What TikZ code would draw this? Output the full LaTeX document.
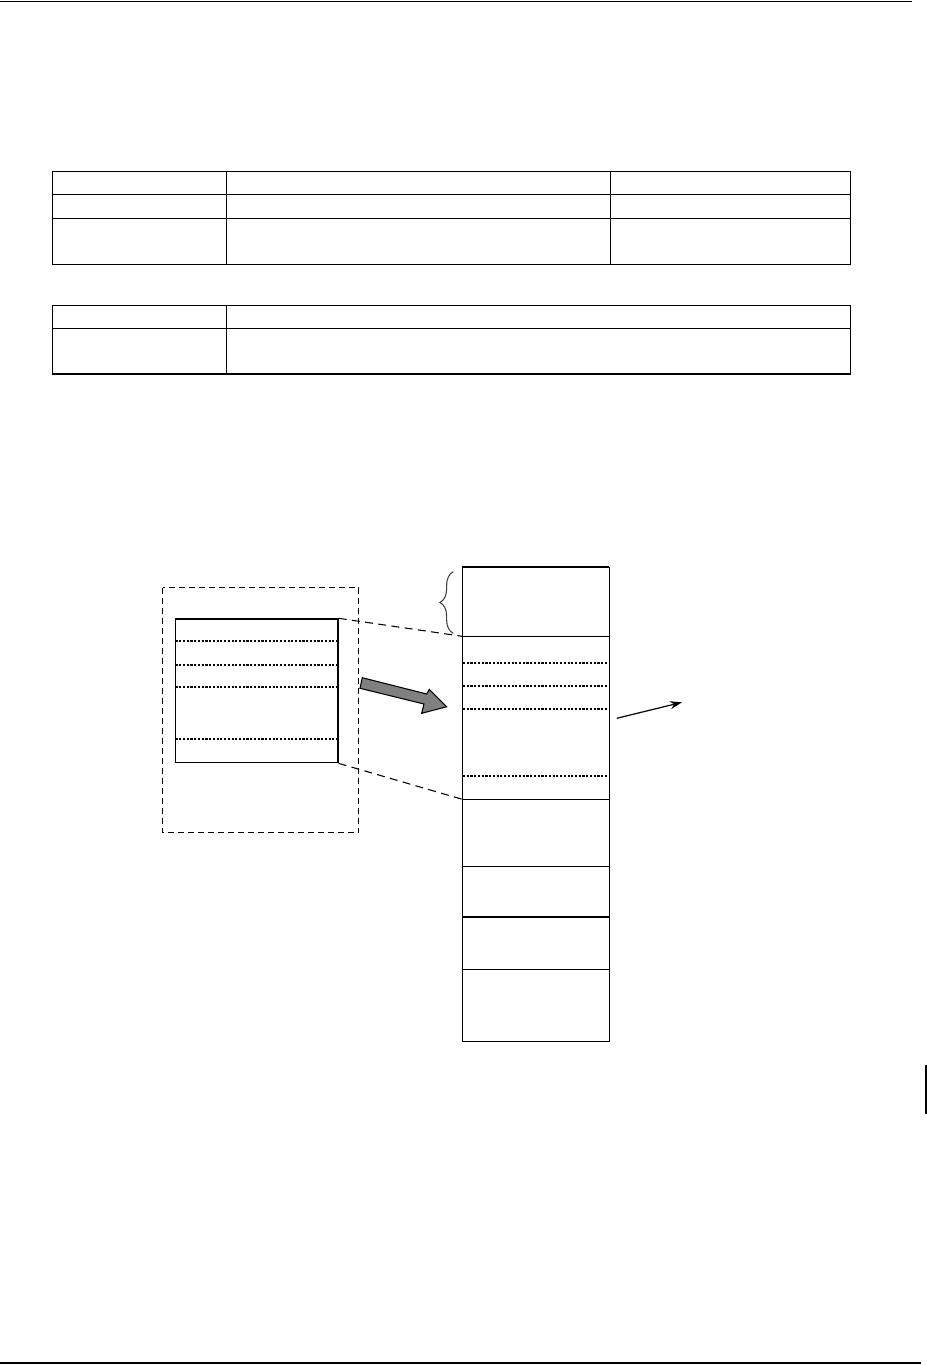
\documentclass[tikz,border=0pt]{standalone}
\usetikzlibrary{decorations.pathreplacing,arrows.meta}
\begin{document}
\begin{tikzpicture}[x=0.75pt,y=-0.75pt,
  rule/.style={line width=1.1pt},
  tbl/.style={line width=1.1pt},
  cell/.style={line width=1pt},
  dotline/.style={line width=1.3pt,dash pattern=on 1.6pt off 1.2pt},
  dashbox/.style={line width=0.9pt,dash pattern=on 4.5pt off 3pt},
  zoomline/.style={line width=0.8pt,dash pattern=on 6pt off 4pt},
  bigarrow/.style={fill=black!50,draw=black,line width=0.8pt,line join=miter},
  thinarrow/.style={line width=0.9pt,-{Stealth[length=9pt,width=6pt]}},
  bracestyle/.style={draw=black!75,line width=0.8pt,decorate,decoration={brace,amplitude=10pt}}]
\useasboundingbox (0,0) rectangle (927,1365);
\fill[white] (0,0) rectangle (927,1365);
% page rules
\draw[rule] (0,1.5) -- (912,1.5);
\draw[rule] (0,1363) -- (921,1363);
\draw[line width=1.5pt] (925.5,1065) -- (925.5,1114);
% table 1
\draw[tbl] (52.3,171.3) rectangle (850.3,264.3);
\draw[tbl] (52.3,194.3) -- (850.3,194.3);
\draw[tbl] (52.3,218.3) -- (850.3,218.3);
\draw[tbl] (226.3,171.3) -- (226.3,264.3);
\draw[tbl] (610.3,171.3) -- (610.3,264.3);
% table 2
\draw[tbl] (52.3,305.3) rectangle (850.3,374);
\draw[tbl] (52.3,328.3) -- (850.3,328.3);
\draw[tbl] (226.3,305.3) -- (226.3,374);
% left dashed frame and inner box
\draw[dashbox] (162.7,587.7) rectangle (358.7,832.7);
\node[draw,cell,minimum width=162.3*0.75pt,minimum height=143.7*0.75pt,anchor=north west,inner sep=0pt] (small) at (175,618.3) {};
\foreach \yy in {641.3,664.7,687.3,739.3}
  \draw[dotline] (175.5,\yy) -- (336.8,\yy);
% right column
\coordinate (ctl) at (462.3,566.7);
\coordinate (cbr) at (609.3,1041.3);
\draw[cell] (ctl) -- (ctl |- cbr) -- (cbr) -- (cbr |- ctl);
\draw[line width=1.5pt] (ctl) -- (cbr |- ctl);
\foreach \yy in {636.3,799.3,866.3,917,969.3}
  \draw[cell] (462.3,\yy) -- (609.3,\yy);
\foreach \yy in {662.7,686,709.3,776.3}
  \draw[dotline] (463,\yy) -- (608.5,\yy);
\coordinate (zt) at (462.3,636.3);
\coordinate (zb) at (462.3,799.3);
% zoom connectors
\draw[zoomline] (small.north east) -- (zt);
\draw[zoomline] (small.south east) -- (zb);
% brace
\draw[bracestyle] (453.3,633.3) -- (453.3,571.7);
% grey block arrow
\draw[bigarrow] (362.3,677.7) -- (426.7,694) -- (429.3,689.3) -- (446.7,706.7) -- (421.7,713.3) -- (424,704) -- (360,688.3) -- cycle;
% thin arrow
\coordinate (as) at (616.7,718.3);
\coordinate (ae) at (682,702.3);
\draw[thinarrow] (as) -- (ae);
\end{tikzpicture}
\end{document}
